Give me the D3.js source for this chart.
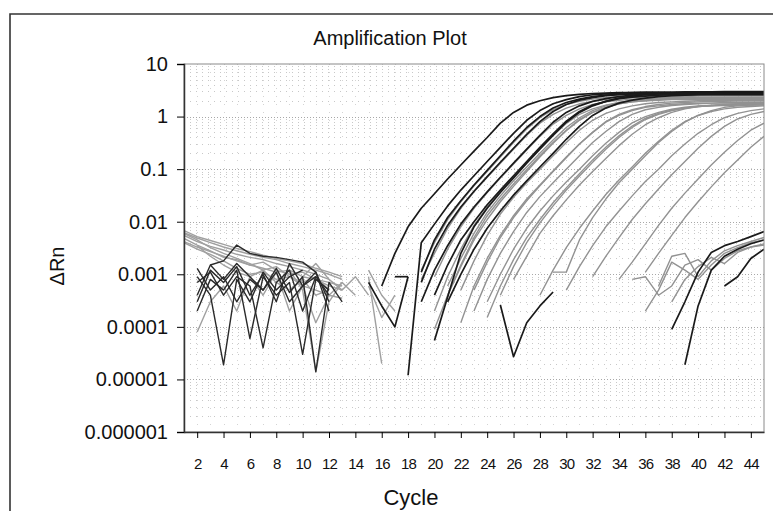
<!DOCTYPE html>
<html>
<head>
<meta charset="utf-8">
<script src="https://cdn.jsdelivr.net/npm/d3@7"></script>
<style>
    body{margin:0;background:#fff;}
    text{font-family:"Liberation Sans", Arial, sans-serif;fill:#111;}
    .grid line{shape-rendering:crispEdges;}
</style>
</head>
<body>
<script>
// axis ticks
const yTicks = [10, 1, 0.1, 0.01, 0.001, 0.0001, 0.00001, 0.000001];
const yTickLabels = ['10', '1', '0.1', '0.01', '0.001', '0.0001', '0.00001', '0.000001'];
const xTicks = [2, 4, 6, 8, 10, 12, 14, 16, 18, 20, 22, 24, 26, 28, 30, 32, 34, 36, 38, 40, 42, 44];

// early dark wells (start cycle, delta Rn per cycle)
const darkCurves = [
    {s:16, v:[0.0006,0.0025,0.008,0.018,0.034,0.065,0.12,0.22,0.4,0.75,1.2,1.65,2.0,2.3,2.5,2.65,2.75,2.8,2.85,2.85,2.9,2.9,2.9,2.9,2.9,2.95,2.95,2.95,2.95,2.95]},
    {s:18, v:[0.000012,0.004,0.009,0.02,0.04,0.075,0.14,0.26,0.48,0.85,1.3,1.75,2.1,2.4,2.6,2.7,2.8,2.85,2.9,2.9,2.9,2.95,2.95,2.95,3.0,3.0,3.0,3.0]},
    {s:19, v:[0.0011,0.0045,0.012,0.025,0.05,0.095,0.18,0.34,0.62,1.0,1.45,1.85,2.15,2.4,2.55,2.65,2.7,2.75,2.8,2.8,2.8,2.85,2.85,2.85,2.85,2.85,2.85]},
    {s:19, v:[0.0007,0.003,0.0085,0.019,0.038,0.072,0.135,0.25,0.46,0.8,1.25,1.7,2.05,2.3,2.5,2.6,2.7,2.75,2.8,2.8,2.8,2.8,2.85,2.85,2.85,2.85,2.85]},
    {s:20, v:[0.000055,0.00037,0.0025,0.008,0.018,0.036,0.068,0.13,0.24,0.44,0.78,1.2,1.6,1.95,2.25,2.45,2.6,2.7,2.75,2.75,2.8,2.8,2.8,2.8,2.8,2.8]},
    {s:19, v:[0.0003,0.0012,0.0035,0.009,0.019,0.037,0.07,0.13,0.24,0.44,0.78,1.2,1.6,1.95,2.2,2.4,2.55,2.65,2.7,2.7,2.75,2.75,2.75,2.75,2.75,2.75,2.75]},
    {s:20, v:[0.0004,0.0015,0.0045,0.01,0.021,0.04,0.075,0.14,0.26,0.47,0.82,1.25,1.65,1.95,2.2,2.35,2.45,2.55,2.6,2.6,2.65,2.65,2.65,2.65,2.65,2.65]},
    {s:21, v:[0.0003,0.001,0.003,0.0075,0.016,0.032,0.06,0.11,0.2,0.37,0.65,1.05,1.45,1.8,2.05,2.25,2.4,2.5,2.55,2.6,2.6,2.6,2.6,2.6,2.6]},
    {s:25, v:[0.00026,0.000027,0.00012,0.00025,0.00046]},
    {s:15, v:[0.0007,0.00025,0.0001,0.0009]},
    {s:17, v:[0.0009,0.0009]}
];

// late dark wells
const lateDarkCurves = [
    {s:38, v:[0.00009,0.0003,0.0011,0.0026,0.0035,0.0042,0.0052,0.0065]},
    {s:39, v:[0.000019,0.00025,0.0012,0.0022,0.003,0.0038,0.0045]},
    {s:42, v:[0.0006,0.0009,0.002,0.003]}
];

// grey wells
const greyCurves = [
    {s:19, v:[0.0012,0.004,0.011,0.024,0.048,0.09,0.17,0.32,0.58,0.95,1.35,1.7,1.95,2.15,2.3,2.4,2.45,2.5,2.5,2.55,2.55,2.55,2.6,2.6,2.6,2.6,2.6]},
    {s:19, v:[0.0008,0.0025,0.0075,0.018,0.037,0.07,0.13,0.24,0.44,0.75,1.1,1.45,1.75,1.95,2.1,2.2,2.3,2.35,2.4,2.4,2.4,2.45,2.45,2.45,2.45,2.45,2.45]},
    {s:20, v:[0.0009,0.003,0.008,0.018,0.036,0.068,0.125,0.23,0.42,0.72,1.05,1.4,1.7,1.9,2.05,2.15,2.2,2.25,2.3,2.3,2.3,2.3,2.3,2.3,2.3,2.3]},
    {s:20, v:[0.0002,0.0009,0.003,0.0085,0.019,0.038,0.072,0.135,0.25,0.44,0.74,1.1,1.4,1.65,1.85,2.0,2.1,2.15,2.2,2.2,2.2,2.2,2.2,2.2,2.2,2.2]},
    {s:20, v:[0.00009,0.0004,0.0014,0.0045,0.011,0.024,0.047,0.09,0.17,0.31,0.54,0.85,1.2,1.5,1.75,1.9,2.0,2.05,2.1,2.1,2.1,2.1,2.1,2.1,2.1,2.1]},
    {s:21, v:[0.0004,0.0015,0.005,0.013,0.027,0.052,0.097,0.18,0.32,0.55,0.88,1.2,1.5,1.75,1.9,2.0,2.1,2.15,2.15,2.2,2.2,2.2,2.2,2.2,2.2]},
    {s:21, v:[0.0006,0.002,0.006,0.015,0.031,0.06,0.11,0.2,0.36,0.62,0.95,1.3,1.6,1.85,2.0,2.1,2.15,2.2,2.2,2.25,2.25,2.25,2.25,2.25,2.25]},
    {s:22, v:[0.0005,0.0018,0.0055,0.014,0.029,0.055,0.1,0.18,0.32,0.55,0.85,1.15,1.4,1.6,1.75,1.85,1.9,1.95,2.0,2.0,2.0,2.0,2.0,2.0]},
    {s:22, v:[0.00012,0.0006,0.002,0.0055,0.013,0.027,0.05,0.092,0.17,0.3,0.5,0.8,1.1,1.35,1.55,1.7,1.8,1.85,1.9,1.95,1.95,2.0,2.0,2.0]},
    {s:23, v:[0.0002,0.0008,0.0025,0.0065,0.015,0.03,0.055,0.1,0.18,0.32,0.52,0.8,1.1,1.35,1.5,1.62,1.7,1.75,1.8,1.85,1.85,1.85,1.85]},
    {s:23, v:[0.0005,0.0017,0.005,0.012,0.025,0.048,0.09,0.165,0.3,0.5,0.78,1.05,1.3,1.5,1.6,1.7,1.75,1.8,1.8,1.8,1.8,1.8,1.8]},
    {s:24, v:[0.0003,0.001,0.003,0.0075,0.016,0.031,0.057,0.1,0.18,0.31,0.5,0.76,1.0,1.2,1.38,1.5,1.6,1.65,1.7,1.7,1.7,1.75]},
    {s:24, v:[0.00015,0.0006,0.0019,0.005,0.011,0.023,0.044,0.082,0.15,0.26,0.43,0.66,0.92,1.15,1.32,1.45,1.55,1.6,1.62,1.65,1.65,1.65]},
    {s:25, v:[0.0004,0.0014,0.004,0.0095,0.02,0.04,0.074,0.135,0.24,0.4,0.62,0.88,1.1,1.3,1.45,1.55,1.6,1.65,1.65,1.7,1.7]},
    {s:26, v:[0.0008,0.0022,0.006,0.013,0.026,0.05,0.09,0.16,0.28,0.46,0.7,0.95,1.2,1.4,1.55,1.62,1.7,1.75,1.75,1.8]},
    {s:29, v:[0.0011,0.0011,0.0045,0.012,0.027,0.055,0.1,0.18,0.32,0.52,0.78,1.05,1.3,1.5,1.6,1.65,1.7]},
    {s:28, v:[0.0004,0.0012,0.0032,0.0075,0.016,0.033,0.062,0.11,0.2,0.34,0.55,0.8,1.05,1.25,1.4,1.5,1.55,1.6]},
    {s:30, v:[0.0005,0.0014,0.0035,0.008,0.016,0.031,0.058,0.1,0.18,0.3,0.48,0.7,0.95,1.15,1.3,1.4]},
    {s:32, v:[0.0009,0.0022,0.005,0.011,0.022,0.042,0.078,0.14,0.25,0.42,0.65,0.9,1.1,1.25]},
    {s:34, v:[0.0008,0.0017,0.0038,0.0085,0.018,0.035,0.065,0.12,0.21,0.35,0.55,0.75]},
    {s:36, v:[0.0011,0.0025,0.0055,0.012,0.024,0.046,0.085,0.15,0.26,0.42]},
    // late noisy grey wells
    {s:36, v:[0.0002,0.0005,0.0017,0.0012,0.0008,0.0015,0.0025,0.0032,0.004,0.0045]},
    {s:37, v:[0.0006,0.0022,0.0025,0.0009,0.0018,0.0028,0.0035,0.0042,0.005]},
    {s:38, v:[0.0003,0.0008,0.0014,0.0021,0.0016,0.0026,0.0033,0.0038]},
    {s:35, v:[0.0008,0.0009,0.0004,0.0006,0.0015,0.0019,0.0012,0.002,0.0028,0.0033,0.0036]}
];

// baseline noise, grey
const greyNoise = [
    {s:1, v:[0.0068,0.0052,0.0044,0.0037,0.0031,0.0027,0.0023,0.002,0.0018,0.0016,0.0013,0.0011,0.0009]},
    {s:1, v:[0.0062,0.0049,0.004,0.0033,0.0028,0.0024,0.0021,0.0019,0.0016,0.0014,0.0012,0.001,0.0008]},
    {s:1, v:[0.0055,0.0042,0.0034,0.0029,0.0024,0.0021,0.0019,0.0016,0.0014,0.0012,0.001,0.0008]},
    {s:1, v:[0.0048,0.0036,0.0028,0.0021,0.0019,0.0015,0.0017,0.0012,0.001,0.0011,0.0008,0.0007,0.0006]},
    {s:1, v:[0.006,0.0045,0.0032,0.0025,0.002,0.0016,0.0012,0.0014,0.0009,0.0007,0.0009,0.0005]},
    {s:1, v:[0.0042,0.0033,0.0027,0.0022,0.0018,0.0015,0.0013,0.0011,0.0012,0.0009,0.0008,0.0006,0.0005]},
    {s:1, v:[0.004,0.003,0.0024,0.0018,0.0013,0.001,0.0011,0.0008,0.0009,0.0006,0.0005,0.0004,0.00035]},
    {s:2, v:[0.0035,0.0022,0.0015,0.0011,0.0009,0.0012,0.0007,0.0005,0.0008,0.0004,0.0005]},
    {s:2, v:[0.00008,0.0003,0.0006,0.0002,0.0009,0.0004,0.0011,0.0002,0.0006,0.00012,0.0004,0.0007]},
    {s:9, v:[0.0012,0.0005,0.000014,0.0003,0.0007,0.0004]},
    {s:10, v:[0.0009,0.0016,0.0008,0.0005,0.0009,0.0004]},
    {s:15, v:[0.0009,0.00002]},
    {s:15, v:[0.0006,0.00015,0.0004]},
    {s:15, v:[0.0012,0.0004,0.0002]}
];

// baseline noise, dark
const darkNoise = [
    {s:2, v:[0.0009,0.0004,0.000019,0.0008,0.0003,0.0011,0.0005,0.0009,0.0012]},
    {s:2, v:[0.0004,0.0015,0.0018,0.0036,0.0025,0.0022,0.0021,0.0019,0.0017,0.0011,0.0003]},
    {s:2, v:[0.0002,0.0008,0.0005,0.0012,0.00006,0.0009,0.0004,0.0007,0.00003,0.0008,0.0005]},
    {s:2, v:[0.0007,0.0011,0.0004,0.0009,0.0006,0.00004,0.0007,0.0012,0.0002,0.0009,0.0004]},
    {s:2, v:[0.0013,0.0005,0.0009,0.0003,0.0008,0.0005,0.0013,0.00045,0.0009,0.000014,0.0007,0.0003]},
    {s:2, v:[0.0003,0.0012,0.0007,0.0014,0.0004,0.001,0.0003,0.0016,0.0006,0.0011,0.0002]},
    {s:3, v:[0.0015,0.0008,0.0016,0.0009,0.0005,0.0011,0.0003,0.0006,0.0009]}
];

// layout
const width = 773, height = 511;
const plot = {left:184, right:764, top:64, bottom:432};

const svg = d3.select('body').append('svg')
    .attr('width', width).attr('height', height);

// outer frame (cut at right and bottom)
svg.append('path')
    .attr('d', `M10,${height+2}V14H${width+2}`)
    .attr('fill', 'none').attr('stroke', '#333').attr('stroke-width', 1.6);

const x = d3.scaleLinear().domain([1, 45]).range([plot.left, plot.right]);
const y = d3.scaleLog().domain([0.000001, 10]).range([plot.bottom, plot.top]);

// grid
const grid = svg.append('g').classed('grid', true);
const minor = y.ticks().filter(t=>!yTicks.includes(t));
grid.selectAll('line.minor').data(minor).join('line')
    .attr('x1', plot.left).attr('x2', plot.right)
    .attr('y1', d=>Math.round(y(d))+0.5).attr('y2', d=>Math.round(y(d))+0.5)
    .attr('stroke', '#c8c8c8').attr('stroke-dasharray', '1,5');
grid.selectAll('line.major').data(yTicks.slice(1, -1)).join('line')
    .attr('x1', plot.left).attr('x2', plot.right)
    .attr('y1', d=>Math.round(y(d))+0.5).attr('y2', d=>Math.round(y(d))+0.5)
    .attr('stroke', '#a8a8a8').attr('stroke-dasharray', '1,2');
grid.selectAll('line.v').data(d3.range(2, 45)).join('line')
    .attr('y1', plot.top).attr('y2', plot.bottom)
    .attr('x1', d=>Math.round(x(d))+0.5).attr('x2', d=>Math.round(x(d))+0.5)
    .attr('stroke', '#d4d4d4').attr('stroke-dasharray', '1,7');

// curves
svg.append('clipPath').attr('id', 'clip')
    .append('rect').attr('x', plot.left).attr('y', plot.top)
    .attr('width', plot.right-plot.left).attr('height', plot.bottom-plot.top);
const lineGen = d3.line()
    .defined(d=>d.v>0)
    .x(d=>x(d.c)).y(d=>y(d.v));
const toPoints = c=>c.v.map((v, i)=>({c:c.s+i, v:v}));

const curves = svg.append('g').attr('clip-path', 'url(#clip)').attr('fill', 'none');
const drawSet = (set, stroke, w)=>{
    curves.append('g').selectAll('path').data(set).join('path')
        .attr('d', d=>lineGen(toPoints(d)))
        .attr('stroke', stroke).attr('stroke-width', w)
        .attr('stroke-linejoin', 'round');
};
drawSet(greyNoise, '#a0a0a0', 1.4);
drawSet(greyCurves, '#929292', 1.4);
drawSet(darkNoise, '#2a2a2a', 1.4);
drawSet(darkCurves, '#1a1a1a', 1.7);
drawSet(lateDarkCurves, '#1a1a1a', 1.7);

// plot border
svg.append('rect')
    .attr('x', plot.left).attr('y', plot.top)
    .attr('width', plot.right-plot.left).attr('height', plot.bottom-plot.top)
    .attr('fill', 'none').attr('stroke', '#8a8a8a');

// axes
const yAxis = svg.append('g')
    .attr('transform', `translate(${plot.left},0)`)
    .call(d3.axisLeft(y).tickValues(yTicks).tickFormat((d, i)=>yTickLabels[i]).tickSize(7).tickPadding(9));
yAxis.selectAll('text').style('font-size', '20px').attr('fill', '#111');
yAxis.select('.domain').attr('stroke', '#333').attr('stroke-width', 1.5);

const xAxis = svg.append('g')
    .attr('transform', `translate(0,${plot.bottom})`)
    .call(d3.axisBottom(x).tickValues(xTicks).tickSize(6).tickPadding(20).tickSizeOuter(0));
xAxis.selectAll('text').style('font-size', '15px').style('letter-spacing', '-0.8px').attr('fill', '#111');
xAxis.select('.domain').attr('stroke', '#333').attr('stroke-width', 1.5);

// titles
svg.append('text')
    .attr('x', 390).attr('y', 45)
    .attr('text-anchor', 'middle').style('font-size', '20px')
    .text('Amplification Plot');
svg.append('text')
    .attr('x', 411).attr('y', 505)
    .attr('text-anchor', 'middle').style('font-size', '22px')
    .text('Cycle');
svg.append('text')
    .attr('transform', 'translate(64,266) rotate(-90)')
    .attr('text-anchor', 'middle').style('font-size', '20px')
    .text('ΔRn');
</script>
</body>
</html>
